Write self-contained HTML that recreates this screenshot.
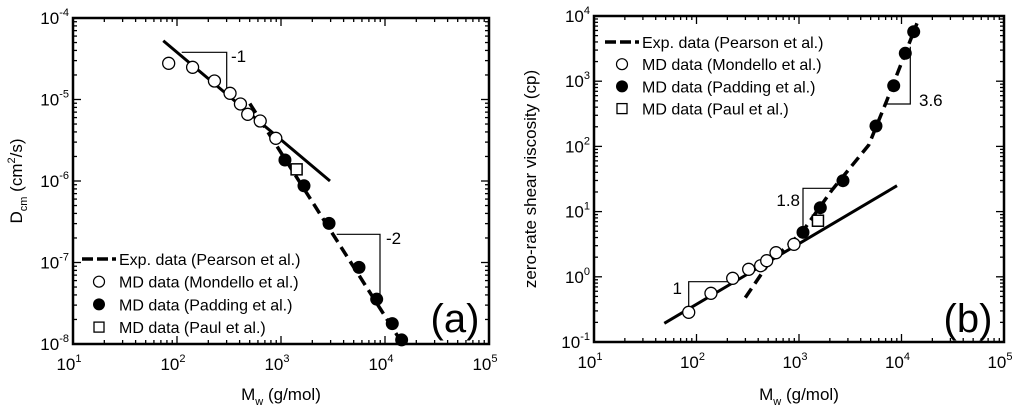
<!DOCTYPE html>
<html><head><meta charset="utf-8"><style>
body{margin:0;background:#fff}
svg{display:block;font-family:"Liberation Sans",Arial,sans-serif}
</style></head><body>
<svg id="c" width="1024" height="413" viewBox="0 0 1024 413"></svg>
<script>
// Panel (a) data: log10(Mw), log10(D)
const aMondelloX=[1.92,2.15,2.36,2.51,2.61,2.68,2.80,2.95];
const aMondelloY=[-4.556,-4.605,-4.773,-4.924,-5.055,-5.182,-5.264,-5.476];
const aPaddingX=[3.038,3.221,3.462,3.75,3.92,4.07,4.16];
const aPaddingY=[-5.742,-6.058,-6.52,-7.06,-7.45,-7.75,-7.95];
const aPaulX=[3.15];
const aPaulY=[-5.857];
const aSolidX=[1.868,3.471];
const aSolidY=[-4.279,-6.0];
const aDashX=[2.70,4.17];
const aDashY=[-5.05,-8.0];
// Panel (b) data: log10(Mw), log10(viscosity)
const bMondelloX=[1.924,2.141,2.353,2.509,2.626,2.685,2.776,2.951];
const bMondelloY=[-0.545,-0.253,-0.023,0.115,0.17,0.247,0.37,0.498];
const bPaddingX=[3.039,3.208,3.429,3.751,3.924,4.037,4.119];
const bPaddingY=[0.682,1.06,1.474,2.313,2.931,3.428,3.759];
const bPaulX=[3.185];
const bPaulY=[0.86];
const bSolidX=[1.686,3.956];
const bSolidY=[-0.713,1.397];
const bDashX=[2.476,2.704,3.029,3.322,3.68,3.859,4.151];
const bDashY=[-0.32,0.207,0.683,1.331,2.02,2.712,3.888];
const xTicks=[1,2,3,4,5];
const aYTicks=[-4,-5,-6,-7,-8];
const bYTicks=[4,3,2,1,0,-1];
const legendLabels=["Exp. data (Pearson et al.)","MD data (Mondello et al.)","MD data (Padding et al.)","MD data (Paul et al.)"];

const svg=document.getElementById('c');
const NS='http://www.w3.org/2000/svg';
function mk(tag,at,parent){const e=document.createElementNS(NS,tag);for(const k in at)e.setAttribute(k,at[k]);(parent||svg).appendChild(e);return e;}

function panel(p){
  const g=mk('g',{});
  
  
  const X=v=>p.x0+(v-p.xmin)*(p.x1-p.x0)/(p.xmax-p.xmin);
  const Y=v=>p.y1-(v-p.ymin)*(p.y1-p.y0)/(p.ymax-p.ymin);
  // ticks
  const tg=mk('g',{stroke:'#000','stroke-width':1.3},g);
  for(let d=p.xmin;d<p.xmax;d++){for(let m=1;m<10;m++){const x=X(d+Math.log10(m));const L=m==1?8:4;
    if(m==1&&d==p.xmin)continue;
    mk('line',{x1:x,x2:x,y1:p.y1,y2:p.y1-L},tg);mk('line',{x1:x,x2:x,y1:p.y0,y2:p.y0+L},tg);}}
  for(let d=p.ymin;d<p.ymax;d++){for(let m=1;m<10;m++){const y=Y(d+Math.log10(m));const L=m==1?8:4;
    if(m==1&&d==p.ymin)continue;
    mk('line',{y1:y,y2:y,x1:p.x0,x2:p.x0+L},tg);mk('line',{y1:y,y2:y,x1:p.x1,x2:p.x1-L},tg);}}
  const fr=mk('rect',{x:p.x0,y:p.y0,width:p.x1-p.x0,height:p.y1-p.y0,fill:'none',stroke:'#000','stroke-width':2.5},g);
  
  
  xTicks.forEach(v=>{const t=mk('text',{x:X(v)-4,y:p.y1+26,'text-anchor':'middle','font-size':17},g);
    
    t.innerHTML='10<tspan dy="-8" font-size="11">'+v+'</tspan>';});
  p.yTicks.forEach(v=>{const t=mk('text',{x:p.x0-4,y:Y(v)+6,'text-anchor':'end','font-size':17},g);
    
    t.innerHTML='10<tspan dy="-8" font-size="11">'+v+'</tspan>';});
  const xt=mk('text',{x:(p.x0+p.x1)/2,y:400,'text-anchor':'middle','font-size':17},g);
  
  xt.innerHTML='M<tspan dy="5" font-size="11">w</tspan><tspan dy="-5"> (g/mol)</tspan>';
  const yt=mk('text',{x:0,y:0,'text-anchor':'middle','font-size':17,transform:`translate(${p.ytx},${(p.y0+p.y1)/2}) rotate(-90)`},g);
  
  yt.innerHTML=p.ytitle;
  // lines
  const sl=mk('line',{x1:X(p.solidX[0]),y1:Y(p.solidY[0]),x2:X(p.solidX[1]),y2:Y(p.solidY[1]),stroke:'#000','stroke-width':3},g);
  
  const dp=mk('polyline',{points:p.dashX.map((v,i)=>X(v)+','+Y(p.dashY[i])).join(' '),fill:'none',stroke:'#000','stroke-width':3.5,'stroke-dasharray':'11,6'},g);
  
  // slope triangles
  p.tris.forEach(t=>{const pl=mk('polyline',{points:t.pts,fill:'none',stroke:'#000','stroke-width':1.2},g);
    
    const tx=mk('text',{x:t.lx,y:t.ly,'font-size':17,'text-anchor':t.anchor||'start'},g);
    tx.textContent=t.label;});
  // markers
  p.mX.forEach((v,i)=>{const c=mk('circle',{cx:X(v),cy:Y(p.mY[i]),r:6,fill:'#fff',stroke:'#000','stroke-width':1.3},g);
    });
  p.pX.forEach((v,i)=>{const c=mk('circle',{cx:X(v),cy:Y(p.pY[i]),r:6.5,fill:'#000'},g);
    });
  p.qX.forEach((v,i)=>{const c=mk('rect',{x:X(v)-5.5,y:Y(p.qY[i])-5.5,width:11,height:11,fill:'#fff',stroke:'#000','stroke-width':1.5},g);
    });
  // legend
  const lg=mk('g',{},g);
  
  legendLabels.forEach((lab,i)=>{const y=p.ly+i*p.ldy;const mx=p.lx;
    if(i==0){mk('line',{x1:mx-17,x2:mx+17,y1:y,y2:y,stroke:'#000','stroke-width':3.5,'stroke-dasharray':'11,4'},lg);}
    else if(i==1){mk('circle',{cx:mx,cy:y,r:5.5,fill:'#fff',stroke:'#000','stroke-width':1.2},lg);}
    else if(i==2){mk('circle',{cx:mx,cy:y,r:6,fill:'#000'},lg);}
    else{mk('rect',{x:mx-5,y:y-5,width:10,height:10,fill:'#fff',stroke:'#000','stroke-width':1.3},lg);}
    const t=mk('text',{x:mx+20,y:y+6,'font-size':16},lg);
    t.textContent=lab;});
  const pt=mk('text',{x:p.tagx,y:p.tagy,'font-size':40,'text-anchor':'middle'},g);
  pt.textContent=p.tag;
}

panel({name:'panel-a-diffusion',x0:73,x1:489,y0:18,y1:344,xmin:1,xmax:5,ymin:-8,ymax:-4,yTicks:aYTicks,
  ytx:22,ytitle:'D<tspan dy="5" font-size="11">cm</tspan><tspan dy="-5"> (cm</tspan><tspan dy="-7" font-size="11">2</tspan><tspan dy="7">/s)</tspan>',
  solidX:aSolidX,solidY:aSolidY,dashX:aDashX,dashY:aDashY,
  mX:aMondelloX,mY:aMondelloY,pX:aPaddingX,pY:aPaddingY,qX:aPaulX,qY:aPaulY,
  tris:[{pts:'181.7,52.3 226.7,52.3 226.7,88.3',label:'-1',lx:231,ly:62},
        {pts:'336.7,234.3 380,234.3 380,296.7',label:'-2',lx:386,ly:244}],
  lx:99,ly:259,ldy:22.7,tag:'(a)',tagx:455,tagy:332});
panel({name:'panel-b-viscosity',x0:594,x1:1004,y0:16,y1:342,xmin:1,xmax:5,ymin:-1,ymax:4,yTicks:bYTicks,
  ytx:536,ytitle:'zero-rate shear viscosity (cp)',
  solidX:bSolidX,solidY:bSolidY,dashX:bDashX,dashY:bDashY,
  mX:bMondelloX,mY:bMondelloY,pX:bPaddingX,pY:bPaddingY,qX:bPaulX,qY:bPaulY,
  tris:[{pts:'730.3,281.7 688.7,281.7 688.7,310',label:'1',lx:682,ly:294,anchor:'end'},
        {pts:'832,188.3 803,188.3 803,230',label:'1.8',lx:800,ly:206,anchor:'end'},
        {pts:'885.3,104 910.3,104 910.3,46.7',label:'3.6',lx:919,ly:106}],
  lx:622,ly:42,ldy:22.2,tag:'(b)',tagx:968,tagy:332});
</script>
</body></html>
